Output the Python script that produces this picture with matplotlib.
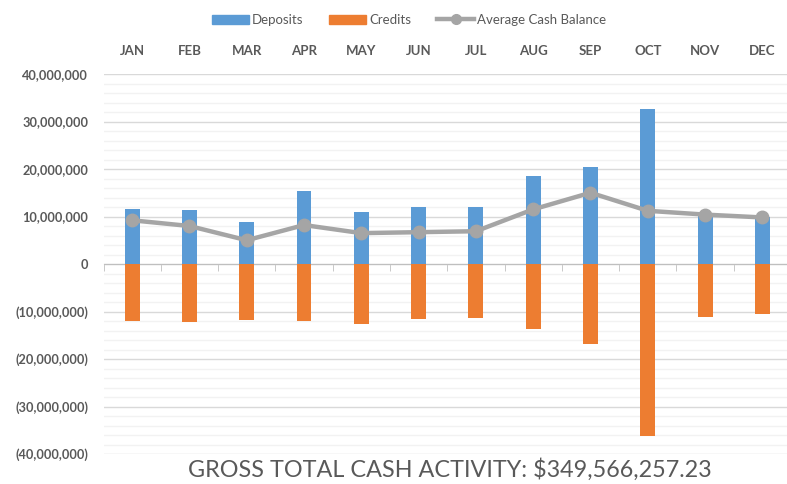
import matplotlib
matplotlib.use("Agg")
import matplotlib.pyplot as plt
from matplotlib.ticker import FuncFormatter, MultipleLocator
from matplotlib.patches import Patch
from matplotlib.lines import Line2D

months = ["JAN", "FEB", "MAR", "APR", "MAY", "JUN", "JUL", "AUG", "SEP", "OCT", "NOV", "DEC"]
deposits = [11.6e6, 11.4e6, 8.9e6, 15.4e6, 10.9e6, 12.0e6, 11.9e6, 18.5e6, 20.5e6, 32.6e6, 10.5e6, 10.0e6]
credits = [-12.1e6, -12.3e6, -11.8e6, -12.0e6, -12.6e6, -11.6e6, -11.3e6, -13.6e6, -16.9e6, -36.3e6, -11.2e6, -10.6e6]
avg_balance = [9.2e6, 8.0e6, 5.0e6, 8.2e6, 6.5e6, 6.7e6, 6.9e6, 11.5e6, 15.0e6, 11.2e6, 10.4e6, 9.8e6]
footer = "GROSS TOTAL CASH ACTIVITY: $349,566,257.23"

BLUE = "#5B9BD5"
ORANGE = "#ED7D31"
GRAY = "#A5A5A5"
TXT = "#595959"
FONT = "Lato"

fig = plt.figure(figsize=(7.87, 4.84), dpi=100)
ax = fig.add_axes([103.5 / 787, 30 / 484, 687.5 / 787, 380 / 484])

x = list(range(len(months)))
ax.bar(x, deposits, width=0.26, color=BLUE, zorder=2)
ax.bar(x, credits, width=0.26, color=ORANGE, zorder=2)
ax.plot(x, avg_balance, color=GRAY, lw=3.2, marker="o", ms=9, zorder=3)

ax.set_xlim(-0.5, 11.5)
ax.set_ylim(-40e6, 40e6)

ax.yaxis.set_major_locator(MultipleLocator(10e6))
ax.yaxis.set_minor_locator(MultipleLocator(2e6))
ax.grid(axis="y", which="major", color="#D9D9D9", lw=1.0)
ax.grid(axis="y", which="minor", color="#F2F2F2", lw=1.0)
ax.set_axisbelow(True)

def fmt(v, pos):
    if abs(v) < 1:
        return "0"
    s = f"{abs(v):,.0f}"
    return f"({s})" if v < 0 else s

ax.yaxis.set_major_formatter(FuncFormatter(fmt))
ax.tick_params(axis="y", which="both", length=0, pad=11, labelsize=9.2, labelcolor=TXT)
for lab in ax.get_yticklabels():
    lab.set_fontfamily(FONT)
    lab.set_fontweight("bold")

for s in ["top", "left", "right"]:
    ax.spines[s].set_visible(False)
ax.spines["bottom"].set_position(("data", 0))
ax.spines["bottom"].set_color("#BFBFBF")
ax.spines["bottom"].set_zorder(1)

ax.set_xticks(x)
ax.set_xticklabels(months, fontfamily=FONT, fontweight="bold", fontsize=9.5, color=TXT)
ax.set_xticks([i - 0.5 for i in range(len(months) + 1)], minor=True)
ax.tick_params(axis="x", which="major", bottom=False, labelbottom=False, top=True,
               labeltop=True, length=0, pad=12)
ax.tick_params(axis="x", which="minor", bottom=True, top=False, length=5,
               color="#BFBFBF", direction="out")

handles = [Patch(color=BLUE), Patch(color=ORANGE),
           Line2D([0], [0], color=GRAY, lw=3.2, marker="o", ms=7)]
fig.legend(handles, ["Deposits", "Credits", "Average Cash Balance"],
           loc="center", bbox_to_anchor=(409 / 787, 1 - 20 / 484), ncol=3,
           frameon=False, prop={"family": FONT, "size": 9.5}, labelcolor=TXT,
           handlelength=2.8, handletextpad=0.2, columnspacing=2.0)

fig.text(450 / 787, 1 - 470 / 484, footer, ha="center", va="center",
         fontsize=16.8, color=TXT, fontfamily=FONT)

fig.savefig("out.png", dpi=100)
